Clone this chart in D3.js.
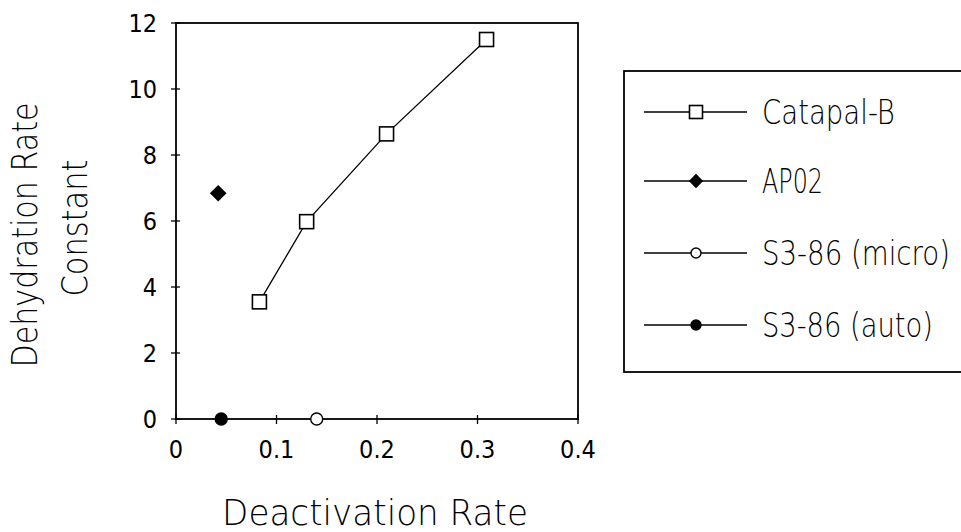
<!DOCTYPE html>
<html>
<head>
<meta charset="utf-8">
<script src="https://cdn.jsdelivr.net/npm/d3@7"></script>
<style>
  body { margin: 0; background: #fff; }
  svg text { font-family: "DejaVu Sans Condensed", "Liberation Sans Narrow", sans-serif; fill: #000; }
  svg text.thin { font-family: "DejaVu Sans", sans-serif; font-weight: 200; }
</style>
</head>
<body>
<svg id="chart" width="961" height="532"></svg>
<script>
// data
var catapalX = [0.083, 0.130, 0.2095, 0.309];
var catapalY = [3.55, 5.98, 8.64, 11.5];
var ap02X = [0.042];
var ap02Y = [6.84];
var microX = [0.140];
var microY = [0];
var autoX = [0.045];
var autoY = [0];
var xTicks = [0, 0.1, 0.2, 0.3, 0.4];
var yTicks = [0, 2, 4, 6, 8, 10, 12];
var seriesNames = ["Catapal-B", "AP02", "S3-86 (micro)", "S3-86 (auto)"];
var seriesSymbols = ["square", "diamond", "circleOpen", "circleFilled"];

var svg = d3.select("#chart");
var margin = {top: 23, left: 176, right: 578, bottom: 419};

var x = d3.scaleLinear().domain([0, 0.4]).range([margin.left, margin.right]);
var y = d3.scaleLinear().domain([0, 12]).range([margin.bottom, margin.top]);

function zip(xs, ys) {
    return xs.map(function(v, i){ return {x: v, y: ys[i]}; });
}

// thin text squeezed sideways to the width it has in the picture
// anchor: "start" or "middle"
function thinText(parent, str, px, py, size, w, anchor) {
    var g = parent.append("g").attr("transform", "translate(" + px + "," + py + ")");
    var t = g.append("text")
        .attr("class", "thin")
        .attr("text-anchor", anchor)
        .style("font-size", size + "px")
        .text(str);
    var k = w / t.node().getComputedTextLength();
    t.attr("transform", "scale(" + k + ",1)");
    return g;
}

function drawMarker(g, kind, cx, cy, s) {
    if (kind == "square") {
        g.append("rect")
            .attr("x", cx - s/2).attr("y", cy - s/2)
            .attr("width", s).attr("height", s)
            .style("fill", "#fff").style("stroke", "#000").style("stroke-width", 1.6);
    } else if (kind == "diamond") {
        g.append("path")
            .attr("d", d3.symbol().type(d3.symbolDiamond2).size(s*s*0.9)())
            .attr("transform", "translate(" + cx + "," + cy + ")")
            .style("fill", "#000");
    } else {
        g.append("circle")
            .attr("cx", cx).attr("cy", cy).attr("r", s/2 - 1)
            .style("fill", kind == "circleFilled" ? "#000" : "#fff")
            .style("stroke", "#000").style("stroke-width", 1.4);
    }
}

// frame
svg.append("rect")
    .attr("x", margin.left).attr("y", margin.top)
    .attr("width", margin.right - margin.left)
    .attr("height", margin.bottom - margin.top)
    .style("fill", "none").style("stroke", "#000").style("stroke-width", 1.8);

// y axis ticks
svg.selectAll(".ytick").data(yTicks).enter().append("line")
    .attr("x1", margin.left - 5).attr("x2", margin.left + 4)
    .attr("y1", function(d){ return y(d); }).attr("y2", function(d){ return y(d); })
    .style("stroke", "#000").style("stroke-width", 1.3);
svg.selectAll(".ylab").data(yTicks).enter().append("text")
    .attr("x", 157).attr("y", function(d){ return y(d) + 9; })
    .attr("text-anchor", "end")
    .style("font-size", "25px")
    .text(function(d){ return d; });

// x axis ticks
svg.selectAll(".xtick").data(xTicks).enter().append("line")
    .attr("x1", function(d){ return x(d); }).attr("x2", function(d){ return x(d); })
    .attr("y1", margin.bottom - 4).attr("y2", margin.bottom + 5)
    .style("stroke", "#000").style("stroke-width", 1.3);
svg.selectAll(".xlab").data(xTicks).enter().append("text")
    .attr("x", function(d){ return x(d); }).attr("y", 458)
    .attr("text-anchor", "middle")
    .style("font-size", "25px")
    .text(function(d){ return d; });

// axis titles
thinText(svg, "Deactivation Rate", 375, 525, 36, 306, "middle");

var yTitle = svg.append("g")
    .attr("transform", "translate(0,235) rotate(-90)");
thinText(yTitle, "Dehydration Rate", 0, 37, 36, 265, "middle");
thinText(yTitle, "Constant", 7, 87, 36, 137, "middle");

// series
var line = d3.line().x(function(d){ return x(d.x); }).y(function(d){ return y(d.y); });
var plot = svg.append("g");
plot.append("path")
    .datum(zip(catapalX, catapalY))
    .attr("d", line)
    .style("fill", "none").style("stroke", "#000").style("stroke-width", 1.3);

var allSeries = [zip(catapalX, catapalY), zip(ap02X, ap02Y), zip(microX, microY), zip(autoX, autoY)];
allSeries.forEach(function(pts, i){
    pts.forEach(function(p){
        drawMarker(plot, seriesSymbols[i], x(p.x), y(p.y), 14);
    });
});

// legend (open on the right, as in the picture)
var legend = svg.append("g");
legend.append("rect")
    .attr("x", 624).attr("y", 71)
    .attr("width", 340).attr("height", 301)
    .style("fill", "none").style("stroke", "#000").style("stroke-width", 1.8);

var rowY = [112, 181, 253, 325];
var nameWidth = [133, 61, 188, 171];
seriesNames.forEach(function(name, i){
    legend.append("line")
        .attr("x1", 644).attr("x2", 747)
        .attr("y1", rowY[i]).attr("y2", rowY[i])
        .style("stroke", "#000").style("stroke-width", 1.3);
    drawMarker(legend, seriesSymbols[i], 696, rowY[i], i == 0 ? 13 : 12);
    thinText(legend, name, 762, rowY[i] + 12, 34, nameWidth[i], "start");
});
</script>
</body>
</html>
